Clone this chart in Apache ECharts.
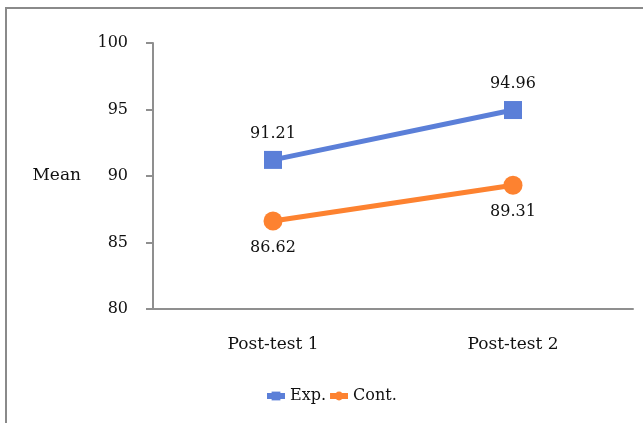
<!DOCTYPE html>
<html>
<head>
<meta charset="utf-8">
<script src="https://cdn.jsdelivr.net/npm/echarts@6/dist/echarts.min.js"></script>
<style>
  html, body { margin: 0; padding: 0; background: #fff; }
  #chart { width: 643px; height: 423px; }
</style>
</head>
<body>
<div id="chart"></div>
<script>
// Test phases on the x axis
const categories = ['Post-test 1', 'Post-test 2'];
// Group means
const expMeans = [91.21, 94.96];
const contMeans = [86.62, 89.31];
// Y axis range
const yMin = 80;
const yMax = 100;
const yStep = 5;

const FONT = '"DejaVu Serif", "Liberation Serif", serif';
const TEXT = '#111';
const AXIS = '#8f8f8f';
const BLUE = '#5B7FD8';
const ORANGE = '#FD8230';

const chart = echarts.init(document.getElementById('chart'), null, { renderer: 'canvas' });

chart.setOption({
  animation: false,
  backgroundColor: '#fff',
  textStyle: { fontFamily: FONT, color: TEXT },
  graphic: [{
    type: 'rect',
    shape: { x: 6, y: 8, width: 700, height: 500 },
    style: { fill: 'none', stroke: '#8a8a8a', lineWidth: 2 },
    silent: true
  }],
  grid: { left: 153, right: 10, top: 43, bottom: 114 },
  legend: {
    left: 264,
    top: 388,
    padding: 0,
    itemWidth: 18,
    itemHeight: 11,
    itemGap: 1,
    lineStyle: { width: 6 },
    textStyle: { fontFamily: FONT, fontSize: 16, color: TEXT },
    data: ['Exp.', 'Cont.']
  },
  xAxis: {
    type: 'category',
    data: categories,
    boundaryGap: true,
    axisTick: { show: false },
    axisLine: { lineStyle: { color: AXIS, width: 2 } },
    axisLabel: { fontFamily: FONT, fontSize: 17, color: TEXT, margin: 27 }
  },
  yAxis: {
    type: 'value',
    min: yMin,
    max: yMax,
    interval: yStep,
    name: 'Mean',
    nameLocation: 'middle',
    nameRotate: 0,
    nameGap: 72,
    nameTextStyle: { fontFamily: FONT, fontSize: 17, color: TEXT },
    splitLine: { show: false },
    axisLine: { show: true, lineStyle: { color: AXIS, width: 2 } },
    axisTick: { show: true, length: 7, lineStyle: { color: AXIS, width: 2 } },
    axisLabel: { fontFamily: FONT, fontSize: 16, color: TEXT, margin: 25 }
  },
  series: [
    {
      name: 'Exp.',
      type: 'line',
      data: expMeans,
      symbol: 'rect',
      symbolSize: 18,
      color: BLUE,
      lineStyle: { width: 5, color: BLUE },
      itemStyle: { color: BLUE },
      label: {
        show: true,
        position: 'top',
        distance: 9,
        fontFamily: FONT,
        fontSize: 16,
        color: TEXT,
        formatter: p => p.value.toFixed(2)
      }
    },
    {
      name: 'Cont.',
      type: 'line',
      data: contMeans,
      symbol: 'circle',
      symbolSize: 19,
      color: ORANGE,
      lineStyle: { width: 5, color: ORANGE },
      itemStyle: { color: ORANGE },
      label: {
        show: true,
        position: 'bottom',
        distance: 9,
        fontFamily: FONT,
        fontSize: 16,
        color: TEXT,
        formatter: p => p.value.toFixed(2)
      }
    }
  ]
});
</script>
</body>
</html>
